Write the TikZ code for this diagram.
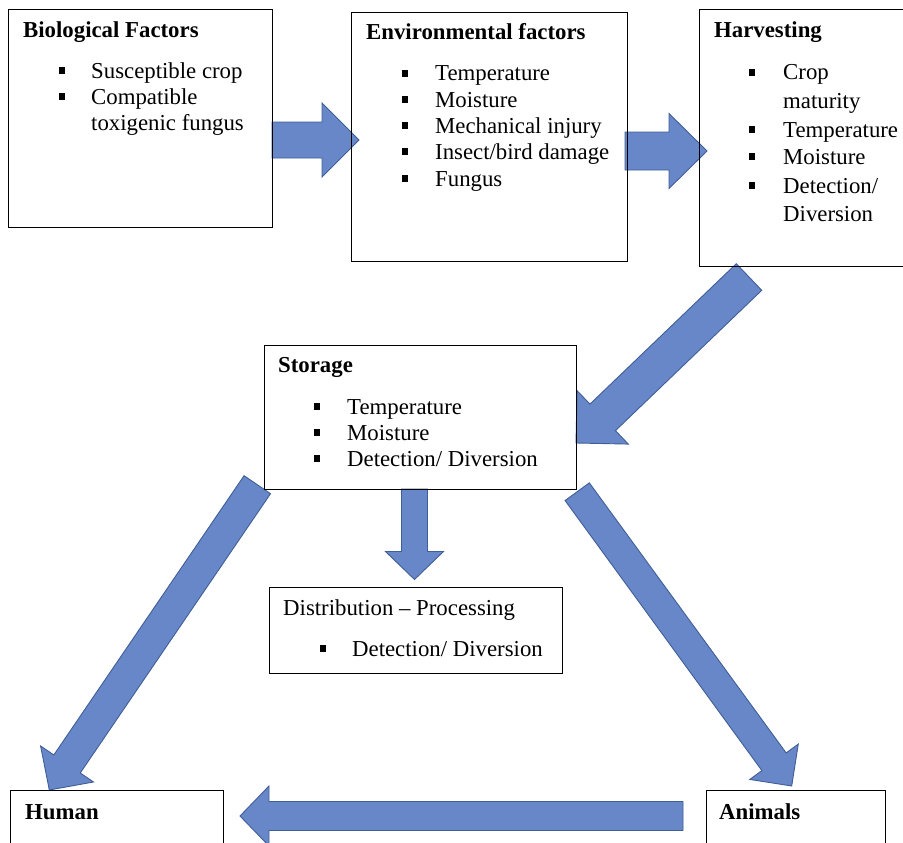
\documentclass[tikz,border=0pt]{standalone}
\usepackage{fontspec}
\setmainfont{Liberation Serif}
\usetikzlibrary{calc}
\definecolor{arrowblue}{RGB}{104,135,200}
\definecolor{arrowedge}{RGB}{64,94,150}
% #1 tail, #2 tip, #3 shaft half width, #4 head half width, #5 head length
\newcommand{\blockarrow}[5]{%
  \coordinate (ba-h) at ($(#2)!#5!(#1)$);
  \draw[barrow] ($(#1)!#3!90:(#2)$) -- ($(ba-h)!#3!-90:(#1)$) -- ($(ba-h)!#4!-90:(#1)$) -- (#2)
     -- ($(ba-h)!#4!90:(#1)$) -- ($(ba-h)!#3!90:(#1)$) -- ($(#1)!#3!-90:(#2)$) -- cycle;
}
\begin{document}
\begin{tikzpicture}[x=1pt,y=-1pt,
  box/.style={draw=black, line width=0.9pt, rectangle, anchor=north west, inner sep=0pt, outer sep=0pt},
  txt/.style={anchor=base west, inner sep=0pt, font=\fontsize{22.8}{26}\selectfont},
  bul/.style={fill=black, rectangle, minimum size=6.5pt, inner sep=0pt, outer sep=0pt},
  barrow/.style={fill=arrowblue, draw=arrowedge, line width=0.9pt, line join=miter}]
\useasboundingbox (0,0) rectangle (903,843);

% arrow end points
\coordinate (a1t) at (272,140);   \coordinate (a1h) at (359,140);
\coordinate (a2t) at (625,151);   \coordinate (a2h) at (707,151);
\coordinate (a3t) at (749,277);   \coordinate (a3h) at (576,443);
\coordinate (a4t) at (414.5,489); \coordinate (a4h) at (414.5,579.5);
\coordinate (a5t) at (257.3,484.7); \coordinate (a5h) at (49.3,790);
\coordinate (a6t) at (577.2,491.7); \coordinate (a6h) at (791.7,786);
\coordinate (a7t) at (683,816);   \coordinate (a7h) at (240,816);

\blockarrow{a1t}{a1h}{18pt}{37pt}{37pt}
\blockarrow{a2t}{a2h}{19pt}{37.5pt}{38pt}
\blockarrow{a3t}{a3h}{18.4pt}{37pt}{37pt}
\blockarrow{a4t}{a4h}{13pt}{29pt}{28pt}
\blockarrow{a5t}{a5h}{16pt}{32pt}{31.5pt}
\blockarrow{a6t}{a6h}{15pt}{30pt}{30pt}
\blockarrow{a7t}{a7h}{14.5pt}{30pt}{29pt}

% boxes
\node[box, minimum width=264pt, minimum height=218pt] (bio) at (8,9) {};
\node[box, minimum width=276pt, minimum height=249pt] (env) at (351,12) {};
\node[box, minimum width=220pt, minimum height=257pt] (harv) at (699,9) {};
\node[box, minimum width=312pt, minimum height=144pt] (stor) at (264,345) {};
\node[box, minimum width=293pt, minimum height=86pt] (dist) at (269,587) {};
\node[box, minimum width=213pt, minimum height=80pt] (human) at (10,790) {};
\node[box, minimum width=179pt, minimum height=80pt] (anim) at (706,790) {};

% Biological
\node[txt] (bio-h) at (23,38) {\bfseries Biological Factors};
\node[bul] (bio-b1) at (62,70.5) {};
\node[txt] (bio-1) at (91,78) {Susceptible crop};
\node[bul] (bio-b2) at (62,96.5) {};
\node[txt] (bio-2) at (91,104) {Compatible};
\node[txt] (bio-3) at (91,131) {toxigenic fungus};

% Environmental
\node[txt] (env-h) at (366,40) {\bfseries Environmental factors};
\node[bul] (env-b1) at (405,73.5) {};
\node[txt] (env-1) at (435,81) {Temperature};
\node[bul] (env-b2) at (405,99.5) {};
\node[txt] (env-2) at (435,107) {Moisture};
\node[bul] (env-b3) at (405,125.5) {};
\node[txt] (env-3) at (435,133) {Mechanical injury};
\node[bul] (env-b4) at (405,151.5) {};
\node[txt] (env-4) at (435,159) {Insect/bird damage};
\node[bul] (env-b5) at (405,178.5) {};
\node[txt] (env-5) at (435,186) {Fungus};

% Harvesting
\node[txt] (harv-h) at (714,38) {\bfseries Harvesting};
\node[bul] (harv-b1) at (752,72.5) {};
\node[txt] (harv-1) at (783,80) {Crop};
\node[txt] (harv-2) at (783,108) {maturity};
\node[bul] (harv-b3) at (752,129.5) {};
\node[txt] (harv-3) at (783,137) {Temperature};
\node[bul] (harv-b4) at (752,156.5) {};
\node[txt] (harv-4) at (783,164) {Moisture};
\node[bul] (harv-b5) at (752,185.5) {};
\node[txt] (harv-5) at (783,193) {Detection/};
\node[txt] (harv-6) at (783,221) {Diversion};

% Storage
\node[txt] (stor-h) at (278,372) {\bfseries Storage};
\node[bul] (stor-b1) at (317,406.5) {};
\node[txt] (stor-1) at (347,414) {Temperature};
\node[bul] (stor-b2) at (317,432.5) {};
\node[txt] (stor-2) at (347,440) {Moisture};
\node[bul] (stor-b3) at (317,458.5) {};
\node[txt] (stor-3) at (347,466) {Detection/ Diversion};

% Distribution
\node[txt] (dist-h) at (283,615) {Distribution -- Processing};
\node[bul] (dist-b1) at (323,648.5) {};
\node[txt] (dist-1) at (352,656) {Detection/ Diversion};

% Human / Animals
\node[txt] (human-h) at (25,819) {\bfseries Human};
\node[txt] (anim-h) at (719,819) {\bfseries Animals};
\end{tikzpicture}
\end{document}
